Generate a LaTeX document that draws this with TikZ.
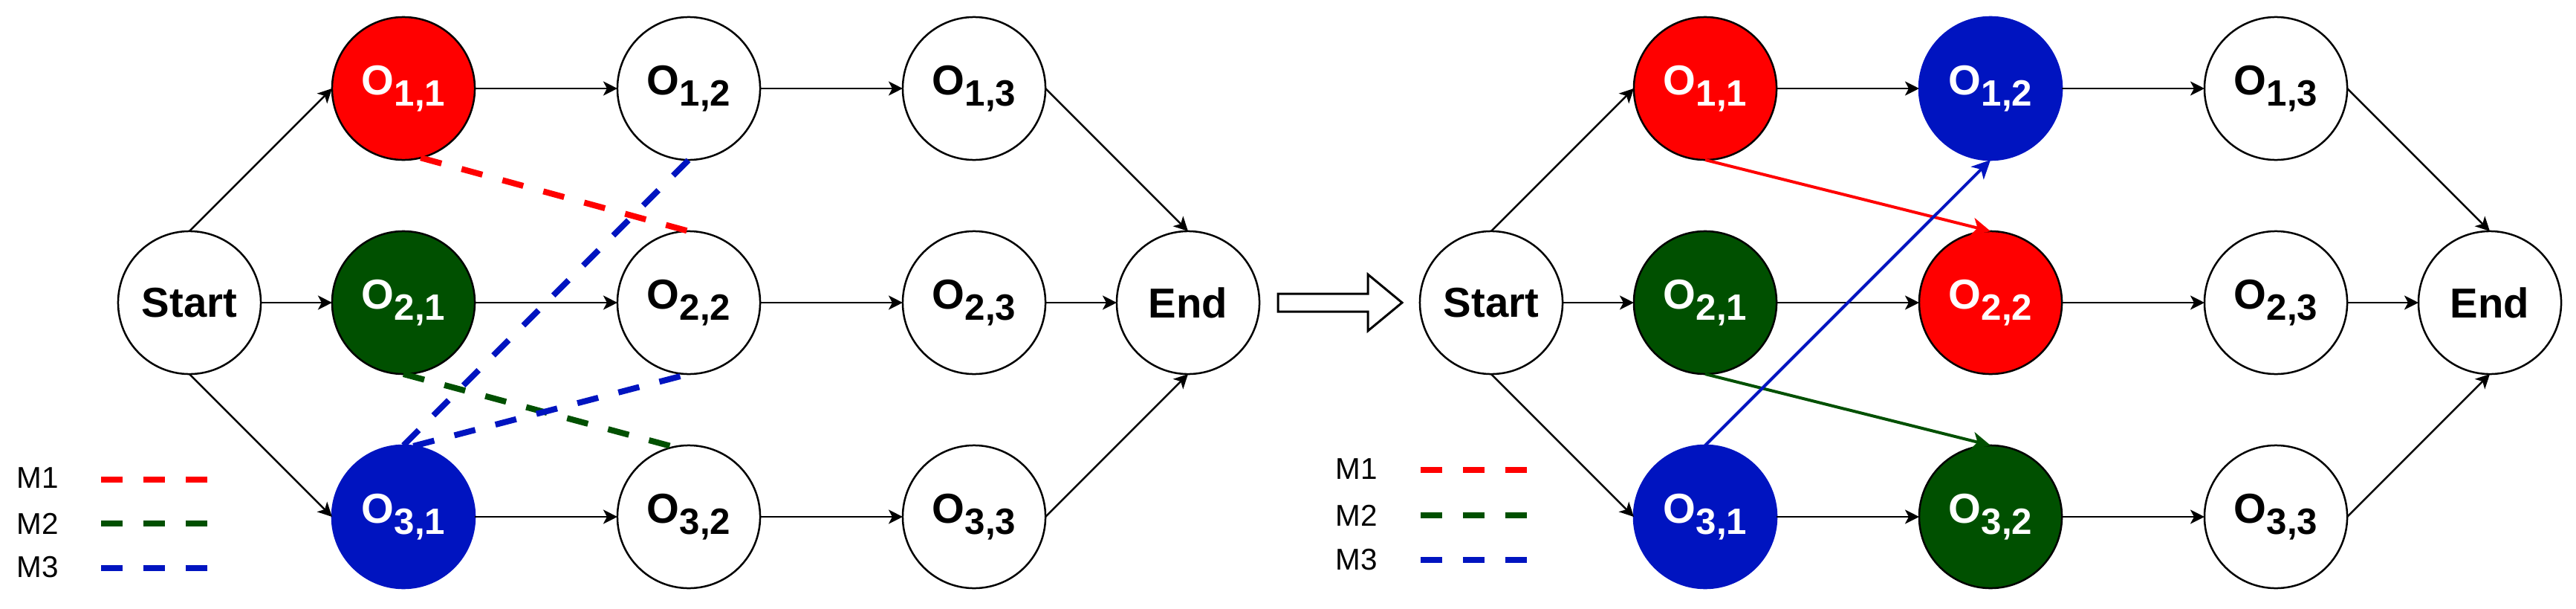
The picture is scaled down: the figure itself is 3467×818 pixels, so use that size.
\documentclass[tikz,border=0pt]{standalone}
\usepackage{fontspec}
\setmainfont{Liberation Sans}
\usetikzlibrary{arrows.meta}
\definecolor{cred}{HTML}{FF0000}
\definecolor{cgreen}{HTML}{005000}
\definecolor{cblue}{HTML}{0014C0}
\newcommand{\Olab}[2]{O\raisebox{-4.3pt}{\fontsize{14}{14}\selectfont\bfseries #1,#2}}
\begin{document}
\begin{tikzpicture}[x=0.01cm, y=-0.01cm,
  circ/.style={circle, draw=black, line width=0.025cm, minimum size=1.92cm, inner sep=0pt, outer sep=0pt, fill=white, font=\fontsize{16}{18}\selectfont\bfseries},
  redn/.style={circ, fill=cred, text=white},
  greenn/.style={circ, fill=cgreen, text=white},
  bluen/.style={circ, fill=cblue, draw=cblue, text=white},
  edge/.style={line width=0.025cm, -{Stealth[length=0.19cm,width=0.19cm,inset=0.05cm]}},
  dsh/.style={line width=0.08cm, dash pattern=on 0.29cm off 0.28cm},
  carrow/.style={line width=0.04cm, -{Stealth[length=0.25cm,width=0.24cm,inset=0.07cm]}},
  legtext/.style={anchor=west, font=\fontsize{11.5}{14}\selectfont, inner sep=0pt}]
\useasboundingbox (0,0) rectangle (3467,818);

% ---------- left graph ----------
\node[circ]   (LS)  at (255,407) {Start};
\node[redn]   (L11) at (543,119) {\Olab{1}{1}};
\node[greenn] (L21) at (543,407) {\Olab{2}{1}};
\node[bluen]  (L31) at (543,695) {\Olab{3}{1}};
\node[circ]   (L12) at (927,119) {\Olab{1}{2}};
\node[circ]   (L22) at (927,407) {\Olab{2}{2}};
\node[circ]   (L32) at (927,695) {\Olab{3}{2}};
\node[circ]   (L13) at (1311,119) {\Olab{1}{3}};
\node[circ]   (L23) at (1311,407) {\Olab{2}{3}};
\node[circ]   (L33) at (1311,695) {\Olab{3}{3}};
\node[circ]   (LE)  at (1599,407) {End};

\draw[edge] (LS.north) -- (L11.west);
\draw[edge] (LS.east) -- (L21.west);
\draw[edge] (LS.south) -- (L31.west);
\foreach \r in {1,2,3}{
  \draw[edge] (L\r1.east) -- (L\r2.west);
  \draw[edge] (L\r2.east) -- (L\r3.west);
}
\draw[edge] (L13.east) -- (LE.north);
\draw[edge] (L23.east) -- (LE.west);
\draw[edge] (L33.east) -- (LE.south);

\draw[dsh, cred]   (L11.-76) -- (L22.north);
\draw[dsh, cgreen] (L21.south) -- (L32.102);
\draw[dsh, cblue]  (L31.north) -- (L12.south);
\draw[dsh, cblue]  (L31.82) -- (L22.south);

% left legend
\node[legtext] (LM1) at (22,643) {M1};
\node[legtext] (LM2) at (22,704) {M2};
\node[legtext] (LM3) at (22,763) {M3};
\draw[dsh, cred]   (136,645) -- (279,645);
\draw[dsh, cgreen] (136,704) -- (279,704);
\draw[dsh, cblue]  (136,764) -- (279,764);

% ---------- transition arrow ----------
\draw[line width=0.03cm, fill=white] (1720,395) -- (1841,395) -- (1841,369) -- (1887,407) -- (1841,445) -- (1841,419) -- (1720,419) -- cycle;

% ---------- right graph ----------
\node[circ]   (RS)  at (2007,407) {Start};
\node[redn]   (R11) at (2295,119) {\Olab{1}{1}};
\node[greenn] (R21) at (2295,407) {\Olab{2}{1}};
\node[bluen]  (R31) at (2295,695) {\Olab{3}{1}};
\node[bluen]  (R12) at (2679,119) {\Olab{1}{2}};
\node[redn]   (R22) at (2679,407) {\Olab{2}{2}};
\node[greenn] (R32) at (2679,695) {\Olab{3}{2}};
\node[circ]   (R13) at (3063,119) {\Olab{1}{3}};
\node[circ]   (R23) at (3063,407) {\Olab{2}{3}};
\node[circ]   (R33) at (3063,695) {\Olab{3}{3}};
\node[circ]   (RE)  at (3351,407) {End};

\draw[edge] (RS.north) -- (R11.west);
\draw[edge] (RS.east) -- (R21.west);
\draw[edge] (RS.south) -- (R31.west);
\foreach \r in {1,2,3}{
  \draw[edge] (R\r1.east) -- (R\r2.west);
  \draw[edge] (R\r2.east) -- (R\r3.west);
}
\draw[edge] (R13.east) -- (RE.north);
\draw[edge] (R23.east) -- (RE.west);
\draw[edge] (R33.east) -- (RE.south);

\draw[carrow, cred]   (R11.south) -- (R22.north);
\draw[carrow, cgreen] (R21.south) -- (R32.north);
\draw[carrow, cblue]  (R31.north) -- (R12.south);

% right legend
\node[legtext] (RM1) at (1797,631) {M1};
\node[legtext] (RM2) at (1797,693) {M2};
\node[legtext] (RM3) at (1797,753) {M3};
\draw[dsh, cred]   (1912,632) -- (2055,632);
\draw[dsh, cgreen] (1912,693) -- (2055,693);
\draw[dsh, cblue]  (1912,753) -- (2055,753);
\end{tikzpicture}
\end{document}
